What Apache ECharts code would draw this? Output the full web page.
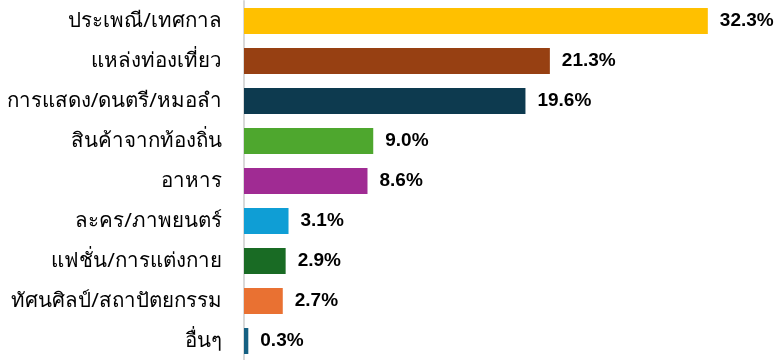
<!DOCTYPE html>
<html><head><meta charset="utf-8">
<script src="https://cdn.jsdelivr.net/npm/echarts@6/dist/echarts.min.js"></script>
<style>html,body{margin:0;padding:0;background:#fff}#c{width:782px;height:360px}</style>
</head><body><div id="c"></div>
<script>
const categories = ['ประเพณี/เทศกาล','แหล่งท่องเที่ยว','การแสดง/ดนตรี/หมอลำ','สินค้าจากท้องถิ่น','อาหาร','ละคร/ภาพยนตร์','แฟชั่น/การแต่งกาย','ทัศนศิลป์/สถาปัตยกรรม','อื่นๆ'];
const values = [32.3, 21.3, 19.6, 9.0, 8.6, 3.1, 2.9, 2.7, 0.3];
const colors = ['#FFC000','#974012','#0D3A4F','#4EA72E','#A02B93','#0F9ED5','#196B24','#E97132','#156082'];

const chart = echarts.init(document.getElementById('c'), null, {renderer:'canvas'});
chart.setOption({
  animation:false,
  grid:{left:244, top:1, width:502.6, height:360, containLabel:false, outerBoundsMode:'none'},
  xAxis:{type:'value', min:0, max:35, show:false},
  yAxis:{type:'category', data:categories, inverse:true,
    axisLine:{show:true, lineStyle:{color:'#D9D9D9', width:2}},
    axisTick:{show:false},
    axisLabel:{color:'#000', fontSize:20.5, margin:22, fontFamily:'Tahoma, "Noto Sans", sans-serif'}},
  series:[{type:'bar', barWidth:26,
    data: values.map((v,i)=>({value:v, itemStyle:{color:colors[i]}})),
    label:{show:true, position:'right', distance:12, formatter:p=>p.value.toFixed(1)+'%',
      color:'#000', fontSize:19, fontWeight:'bold', fontFamily:'"Liberation Sans", Arial, sans-serif'}}]
});
</script></body></html>
